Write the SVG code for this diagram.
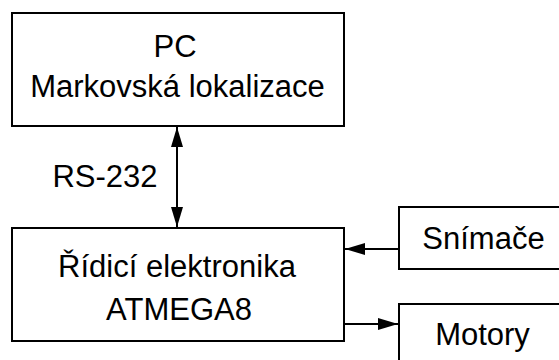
<svg xmlns="http://www.w3.org/2000/svg" width="559" height="360" viewBox="0 0 559 360">
<style>
.box{fill:#fff;stroke:#000;stroke-width:2}
.t{font-family:"Liberation Sans",Arial,sans-serif;font-size:31px;fill:#000;text-anchor:middle}
.c{stroke:#000;stroke-width:2;fill:none}
</style>
<defs>
<marker id="ah" markerWidth="20" markerHeight="12" refX="20" refY="6" orient="auto-start-reverse" markerUnits="userSpaceOnUse">
<path d="M0,0 L20,6 L0,12 Z" fill="#000"/>
</marker>
</defs>
<rect width="559" height="360" fill="#fff"/>
<g id="pc">
<rect class="box" x="12" y="13" width="332" height="113"/>
<text class="t" x="175" y="57">PC</text>
<text class="t" x="177.5" y="97">Markovská lokalizace</text>
</g>
<g id="ridici">
<rect class="box" x="12" y="228" width="332" height="113"/>
<text class="t" x="177" y="277">Řídicí elektronika</text>
<text class="t" x="179" y="320">ATMEGA8</text>
</g>
<g id="snimace">
<rect class="box" x="399" y="207" width="170" height="62"/>
<text class="t" x="483.5" y="249">Snímače</text>
</g>
<g id="motory">
<rect class="box" x="399" y="304" width="170" height="70"/>
<text class="t" x="482.5" y="345">Motory</text>
</g>
<g id="rs232label">
<text class="t" x="105" y="187">RS-232</text>
</g>
<g id="connectors">
<line class="c" x1="177" y1="127" x2="177" y2="227" marker-start="url(#ah)" marker-end="url(#ah)"/>
<line class="c" x1="399" y1="249" x2="345" y2="249" marker-end="url(#ah)"/>
<line class="c" x1="344" y1="324" x2="398" y2="324" marker-end="url(#ah)"/>
</g>
</svg>
